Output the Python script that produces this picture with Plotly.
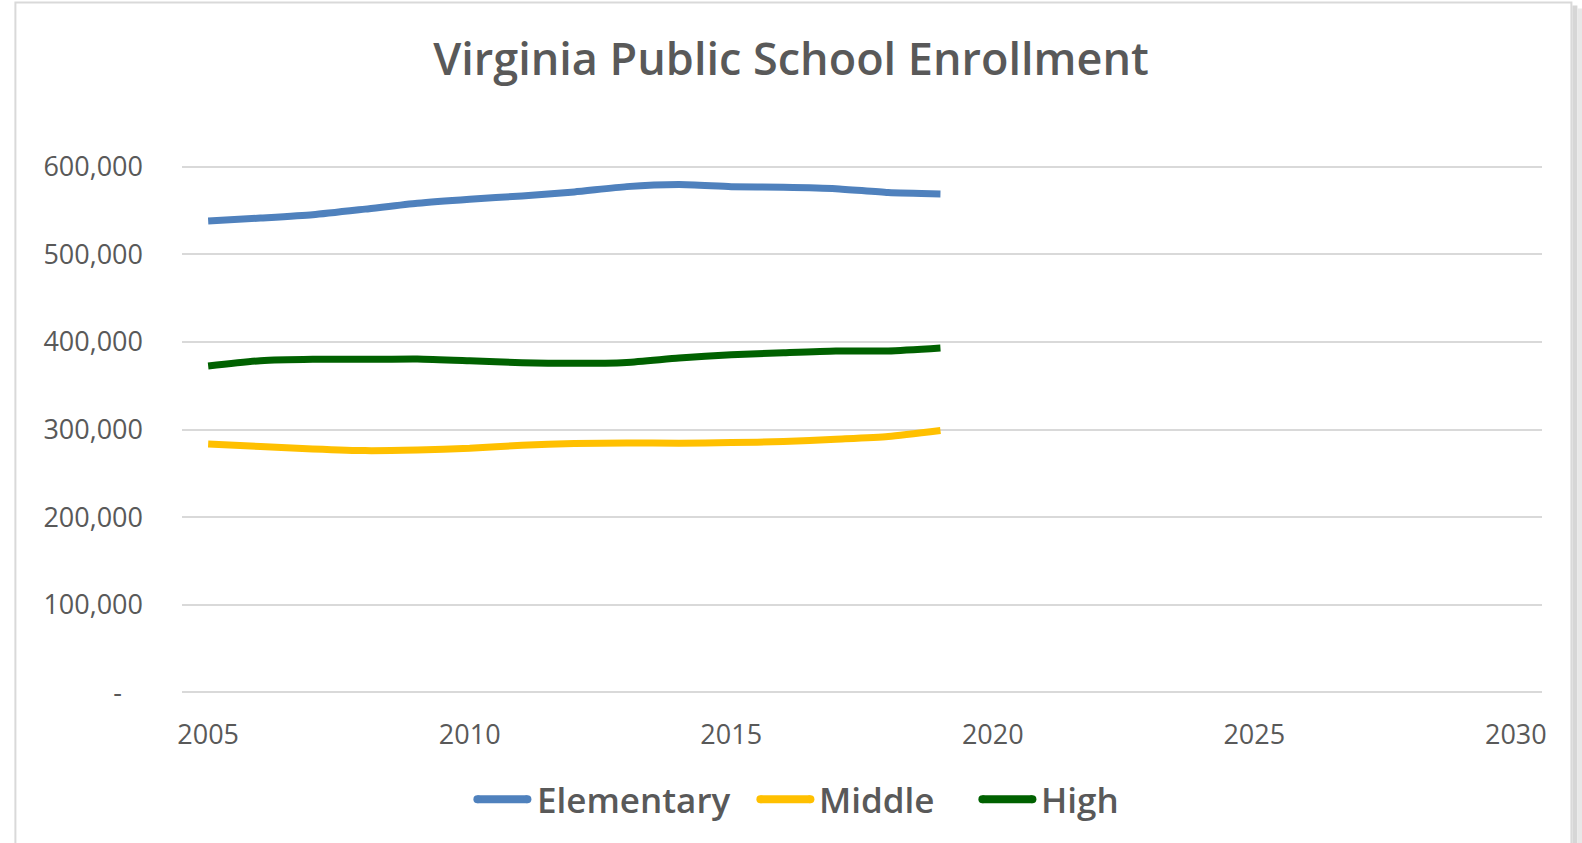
import plotly.graph_objects as go

years = list(range(2005, 2020))
elementary = [538000, 541400, 545200, 551600, 558400, 563000, 566700, 571300,
              577300, 579600, 577300, 576600, 575000, 570500, 569000]
middle = [283500, 280500, 277800, 275900, 276600, 278500, 282000, 283900,
          284700, 284300, 285100, 286200, 288900, 292000, 298900]
high = [372400, 378500, 380100, 380100, 380500, 378500, 376200, 375500,
        376600, 381600, 385400, 387700, 389700, 389700, 393100]

series_names = ["Elementary", "Middle", "High"]
series_colors = ["#4F81BD", "#FFC000", "#006100"]

y_tickvals = [0, 100000, 200000, 300000, 400000, 500000, 600000]
y_ticktext = ["-\u00a0\u00a0\u00a0", "100,000", "200,000", "300,000", "400,000", "500,000", "600,000"]
x_tickvals = [2005, 2010, 2015, 2020, 2025, 2030]

FONT = "Open Sans"
GRAY = "#595959"

fig = go.Figure()
for name, vals, col in zip(series_names, [elementary, middle, high], series_colors):
    fig.add_trace(go.Scatter(
        x=years, y=vals, name=name, mode="lines",
        line=dict(color=col, width=7, shape="spline", smoothing=0.6),
        showlegend=False,
    ))

W, H = 1582, 843
L, R = 181.6, 40.4
T, B = 167 - 1.75, 151 - 1.75
pw, ph = W - L - R, H - T - B

def px_x(px):
    return (px - L) / pw

def px_y(py):
    return (H - B - py) / ph

fig.update_layout(
    width=W, height=H,
    margin=dict(l=L, r=R, t=T, b=B, autoexpand=False),
    paper_bgcolor="white", plot_bgcolor="white",
    font=dict(family=FONT, color=GRAY),
    title=dict(
        text="Virginia Public School Enrollment",
        x=0.5, xref="container", xanchor="center",
        y=1 - 59 / H, yref="container", yanchor="middle",
        font=dict(family=FONT, size=45, color=GRAY, weight=600),
    ),
    showlegend=False,
)

fig.update_xaxes(
    range=[2004.5, 2030.5], tickvals=x_tickvals, showgrid=False,
    zeroline=False, showline=False, ticks="",
    tickfont=dict(family=FONT, size=27, color=GRAY),
    ticklabelstandoff=22,
)
fig.update_yaxes(
    range=[-2000, 602000], tickvals=y_tickvals, ticktext=y_ticktext,
    showgrid=True, gridcolor="#d9d9d9", gridwidth=1.5,
    zeroline=False, showline=False, ticks="",
    tickfont=dict(family=FONT, size=27, color=GRAY),
    ticklabelstandoff=38,
)

# chart border and right-side shadow
fig.add_shape(type="rect", xref="paper", yref="paper",
              x0=px_x(1572), x1=px_x(1577), y0=px_y(860), y1=px_y(6),
              fillcolor="#d6d6d6", line=dict(width=0), layer="below")
fig.add_shape(type="rect", xref="paper", yref="paper",
              x0=px_x(1577), x1=px_x(1582), y0=px_y(860), y1=px_y(9),
              fillcolor="#e8e8e8", line=dict(width=0), layer="below")
fig.add_shape(type="rect", xref="paper", yref="paper",
              x0=px_x(15), x1=px_x(1571), y0=px_y(860), y1=px_y(3),
              fillcolor="white", line=dict(color="#d9d9d9", width=2), layer="below")

# custom legend (Excel-style long rounded line keys)
legend_y = px_y(799)
legend_items = [(473, 531, 536), (756, 814, 818), (978, 1036, 1040)]
for (x0, x1, tx), name, col in zip(legend_items, series_names, series_colors):
    fig.add_shape(type="line", xref="paper", yref="paper",
                  x0=px_x(x0 + 4), x1=px_x(x1 - 4), y0=legend_y, y1=legend_y,
                  line=dict(color=col, width=8))
    for cx in (x0 + 4, x1 - 4):
        fig.add_shape(type="circle", xref="paper", yref="paper",
                      xsizemode="pixel", ysizemode="pixel",
                      xanchor=px_x(cx), yanchor=legend_y,
                      x0=-4, x1=4, y0=-4, y1=4,
                      fillcolor=col, line=dict(width=0))
    fig.add_annotation(text=name, xref="paper", yref="paper",
                       x=px_x(tx), y=legend_y, xanchor="left", yanchor="middle",
                       showarrow=False, borderpad=0,
                       font=dict(family=FONT, size=35, color=GRAY, weight=600))

fig.write_html("out.html", config={"displayModeBar": False},
               post_script="document.body.style.margin='0';")
